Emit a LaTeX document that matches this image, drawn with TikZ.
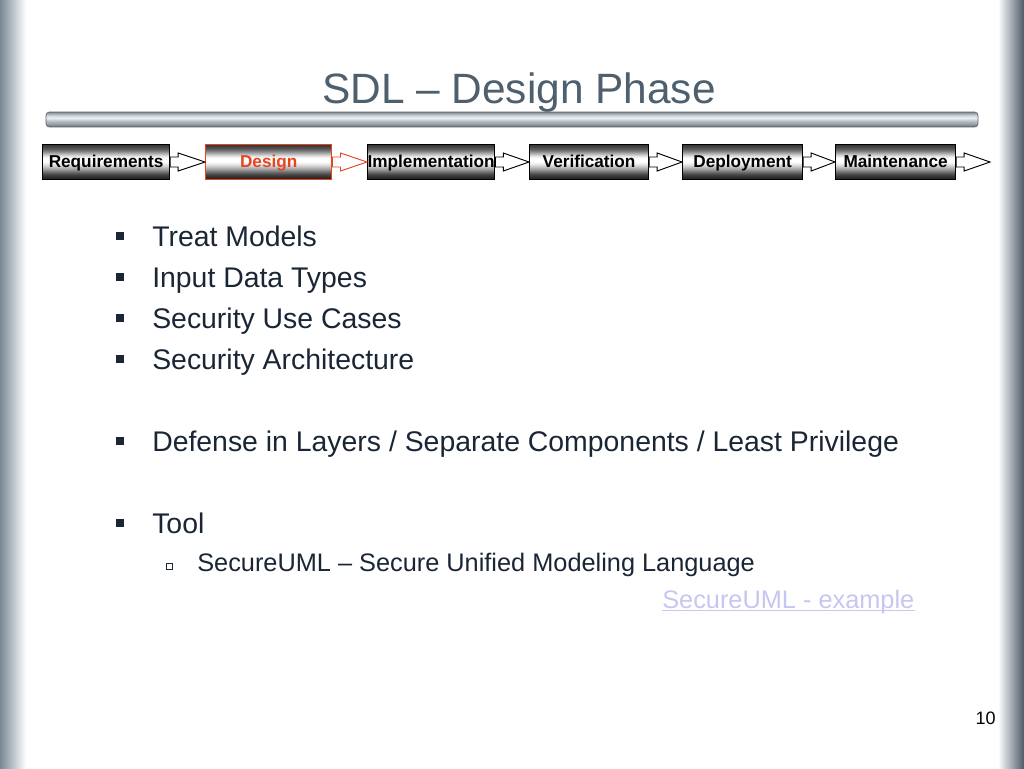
\documentclass[tikz,border=0pt]{standalone}
\usepackage{fontspec}
\setmainfont{Liberation Sans}
\usetikzlibrary{calc}
\definecolor{txt}{HTML}{1A2636}
\definecolor{ttl}{HTML}{4E5F6E}
\definecolor{dsg}{HTML}{E8441E}
\definecolor{lnk}{HTML}{C6C6F2}
\definecolor{edgeL}{HTML}{7A8894}
\definecolor{edgeR}{HTML}{4C5A68}
\definecolor{barD}{HTML}{737C85}
\definecolor{barW}{HTML}{E8ECEF}
\pgfdeclarelayer{bg}
\pgfsetlayers{bg,main}
\newcommand{\flowarr}[3][]{\filldraw[flow,#1] ($(#2.east)+(0,-5)$) -- ++(8,0) -- ++(0,-4) -- (#3) -- ($(#2.east)+(8,9)$) -- ++(0,-4) -- ($(#2.east)+(0,5)$) -- cycle;}
\newcommand{\metalfill}[1]{\begin{pgfonlayer}{bg}\foreach \d [count=\k from 0] in {80,78,75,72,68,63,57,50,42,34,26,18,11,5,1,0,0,0,2,5,9,14,19,25,31,37,44,51,58,64,70,75,79,82,84} {\fill[black!\d] ($(#1.north west)+(0,\k)$) rectangle ($(#1.north east)+(0,\k+1.05)$);}\end{pgfonlayer}}
\begin{document}
\begin{tikzpicture}[x=0.75pt,y=-0.75pt,
 stage/.style={draw=black, line width=0.9pt, minimum height=26.25pt, inner sep=0pt, text height=10.5pt, text depth=2.7pt, anchor=west, font=\fontsize{12.9}{14}\selectfont\bfseries, text=black},
 flow/.style={draw=black, fill=white, line width=0.7pt, line join=miter},
 bul/.style={anchor=base west, inner sep=0pt, text=txt, font=\fontsize{21.3}{25}\selectfont},
 sub/.style={anchor=base west, inner sep=0pt, text=txt, font=\fontsize{19}{22}\selectfont},
 sqb/.style={fill=txt, minimum size=6pt, inner sep=0pt},
 sqs/.style={draw=txt, fill=white, line width=0.5pt, minimum size=4.5pt, inner sep=0pt}
]
\useasboundingbox (0,0) rectangle (1024,768);
\begin{pgfonlayer}{bg}
\fill[white] (0,0) rectangle (1024,768);
\shade[left color=edgeL, right color=white] (0,0) rectangle (26,768);
\shade[left color=white, right color=edgeR] (998,0) rectangle (1024,768);
\end{pgfonlayer}

\node[anchor=base, text=ttl, font=\fontsize{31.8}{36}\selectfont, inner sep=0pt] (title) at (519,103) {SDL – Design Phase};
\begin{scope}
\clip[rounded corners=2.5pt] (46,112) rectangle (978,127);
\foreach \p [count=\k from 0] in {90,70,50,30,15,5,0,10,25,40,50,60,70,85,100} {\fill[barD!\p!barW] (46,112+\k) rectangle (978,113.05+\k);}
\end{scope}
\draw[barD!80!black, line width=0.5pt, rounded corners=2.5pt] (46,112) rectangle (978,127);

\node[stage, minimum width=95.25pt] (req) at (42,162) {Requirements};
\node[stage, draw=dsg, text=dsg, line width=1.1pt, minimum width=94.5pt] (des) at (205,162) {Design};
\node[stage, minimum width=94.5pt] (imp) at (367,162) {Implementation};
\node[stage, minimum width=89.25pt] (ver) at (529,162) {Verification};
\node[stage, minimum width=90pt] (dep) at (682,162) {Deployment};
\node[stage, minimum width=90pt] (mai) at (835,162) {Maintenance};
\coordinate (fin) at (990,162);
\metalfill{req}
\metalfill{des}
\metalfill{imp}
\metalfill{ver}
\metalfill{dep}
\metalfill{mai}

\flowarr{req}{des.west}
\flowarr[draw=dsg]{des}{imp.west}
\flowarr{imp}{ver.west}
\flowarr{ver}{dep.west}
\flowarr{dep}{mai.west}
\flowarr{mai}{fin}

\node[sqb] (s1) at (120,235.5) {};
\node[bul] (b1) at (152,246) {Treat Models};
\node[sqb] (s2) at (120,276.5) {};
\node[bul] (b2) at (152,287) {Input Data Types};
\node[sqb] (s3) at (120,317.5) {};
\node[bul] (b3) at (152,328) {Security Use Cases};
\node[sqb] (s4) at (120,358.5) {};
\node[bul] (b4) at (152,369) {Security Architecture};
\node[sqb] (s5) at (120,440.5) {};
\node[bul] (b5) at (152,451) {Defense in Layers / Separate Components / Least Privilege};
\node[sqb] (s6) at (120,522.5) {};
\node[bul] (b6) at (152,533) {Tool};
\node[sqs] (s7) at (169,566) {};
\node[sub] (b7) at (197,571) {SecureUML – Secure Unified Modeling Language};
\node[sub, text=lnk] (lk) at (662,608) {SecureUML - example};
\draw[lnk, line width=0.75pt] ($(lk.base west)+(0,2.5)$) -- ($(lk.base east)+(0,2.5)$);

\node[anchor=base east, font=\fontsize{13.5}{16}\selectfont, text=black, inner sep=0pt] (pg) at (996,724) {10};
\end{tikzpicture}
\end{document}
